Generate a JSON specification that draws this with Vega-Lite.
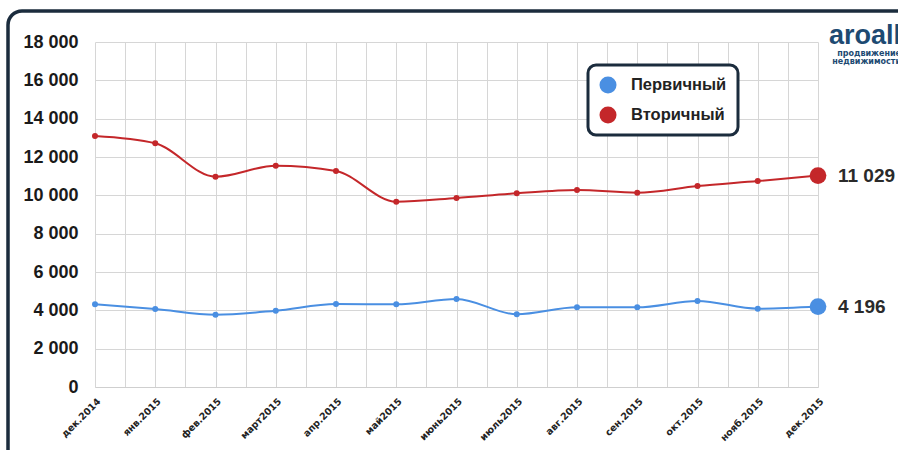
{
  "$schema": "https://vega.github.io/schema/vega-lite/v6.json",
  "width": 920,
  "height": 470,
  "autosize": {"type": "none"},
  "padding": {"left": 8, "top": 11, "right": 0, "bottom": 0},
  "background": "white",
  "title": {
    "text": "aroall",
    "subtitle": ["продвижение", "недвижимости"],
    "anchor": "end",
    "frame": "group",
    "orient": "top",
    "offset": -56,
    "dx": -27,
    "font": "Liberation Sans",
    "fontSize": 27,
    "fontWeight": "bold",
    "color": "#1d4a72",
    "subtitleFont": "DejaVu Sans",
    "subtitleFontSize": 8,
    "subtitleFontWeight": "bold",
    "subtitleLineHeight": 8.5,
    "subtitleColor": "#1d4a72",
    "subtitlePadding": 0
  },
  "data": {
    "values": [
      {"i": 0, "month": "дек.2014", "series": "Первичный", "value": 4314},
      {"i": 1, "month": "янв.2015", "series": "Первичный", "value": 4069},
      {"i": 2, "month": "фев.2015", "series": "Первичный", "value": 3772},
      {"i": 3, "month": "март2015", "series": "Первичный", "value": 3981},
      {"i": 4, "month": "апр.2015", "series": "Первичный", "value": 4330},
      {"i": 5, "month": "май2015", "series": "Первичный", "value": 4314},
      {"i": 6, "month": "июнь2015", "series": "Первичный", "value": 4591},
      {"i": 7, "month": "июль2015", "series": "Первичный", "value": 3793},
      {"i": 8, "month": "авг.2015", "series": "Первичный", "value": 4158},
      {"i": 9, "month": "сен.2015", "series": "Первичный", "value": 4158},
      {"i": 10, "month": "окт.2015", "series": "Первичный", "value": 4487},
      {"i": 11, "month": "нояб.2015", "series": "Первичный", "value": 4085},
      {"i": 12, "month": "дек.2015", "series": "Первичный", "value": 4196},
      {"i": 0, "month": "дек.2014", "series": "Вторичный", "value": 13095},
      {"i": 1, "month": "янв.2015", "series": "Вторичный", "value": 12714},
      {"i": 2, "month": "фев.2015", "series": "Вторичный", "value": 10971},
      {"i": 3, "month": "март2015", "series": "Вторичный", "value": 11545},
      {"i": 4, "month": "апр.2015", "series": "Вторичный", "value": 11269},
      {"i": 5, "month": "май2015", "series": "Вторичный", "value": 9668},
      {"i": 6, "month": "июнь2015", "series": "Вторичный", "value": 9860},
      {"i": 7, "month": "июль2015", "series": "Вторичный", "value": 10105},
      {"i": 8, "month": "авг.2015", "series": "Вторичный", "value": 10277},
      {"i": 9, "month": "сен.2015", "series": "Вторичный", "value": 10137},
      {"i": 10, "month": "окт.2015", "series": "Вторичный", "value": 10486},
      {"i": 11, "month": "нояб.2015", "series": "Вторичный", "value": 10747},
      {"i": 12, "month": "дек.2015", "series": "Вторичный", "value": 11029}
    ]
  },
  "encoding": {
    "y": {
      "field": "value",
      "type": "quantitative",
      "scale": {"domain": [0, 18000], "range": [376, 31], "nice": false},
      "axis": {
        "title": null,
        "orient": "left",
        "offset": -87,
        "values": [0, 2000, 4000, 6000, 8000, 10000, 12000, 14000, 16000, 18000],
        "format": ",d",
        "labelFont": "Liberation Sans",
        "labelFontSize": 18,
        "labelFontWeight": "bold",
        "labelColor": "#1a1a1a",
        "labelPadding": 17,
        "ticks": false,
        "domain": false,
        "grid": true,
        "gridColor": "#d6d6d6",
        "gridWidth": 1
      }
    },
    "color": {
      "field": "series",
      "type": "nominal",
      "scale": {"domain": ["Первичный", "Вторичный"], "range": ["#4a8fe2", "#c4272a"]},
      "legend": {
        "title": null,
        "orient": "none",
        "legendX": 580,
        "legendY": 54,
        "direction": "vertical",
        "symbolType": "circle",
        "symbolSize": 290,
        "symbolStrokeWidth": 0,
        "labelFont": "Liberation Sans",
        "labelFontSize": 16.5,
        "labelFontWeight": "bold",
        "labelColor": "#222",
        "labelOffset": 14,
        "rowPadding": 12,
        "padding": 11,
        "strokeColor": "#1b2c3d",
        "fillColor": "white",
        "cornerRadius": 8
      }
    }
  },
  "layer": [
    {
      "transform": [{"filter": "datum.i == 12"}],
      "mark": {"type": "point", "filled": true, "size": 280, "opacity": 1},
      "encoding": {
        "x": {
          "field": "i",
          "type": "quantitative",
          "scale": {"domain": [0, 12], "range": [87, 810], "nice": false, "zero": false},
          "axis": {
            "title": null,
            "orient": "top",
            "offset": 0,
            "values": [0, 0.5, 1, 1.5, 2, 2.5, 3, 3.5, 4, 4.5, 5, 5.5, 6, 6.5, 7, 7.5, 8, 8.5, 9, 9.5, 10, 10.5, 11, 11.5, 12],
            "labels": false,
            "ticks": false,
            "domain": false,
            "grid": true,
            "gridColor": "#d6d6d6",
            "gridWidth": 1
          }
        }
      }
    },
    {
      "mark": {"type": "line", "interpolate": "monotone", "strokeWidth": 2, "point": {"filled": true, "size": 36}},
      "encoding": {
        "x": {
          "field": "i",
          "type": "quantitative",
          "axis": {
            "title": null,
            "orient": "bottom",
            "offset": -94,
            "values": [0, 1, 2, 3, 4, 5, 6, 7, 8, 9, 10, 11, 12],
            "labelExpr": "['дек.2014','янв.2015','фев.2015','март2015','апр.2015','май2015','июнь2015','июль2015','авг.2015','сен.2015','окт.2015','нояб.2015','дек.2015'][datum.value]",
            "labelAngle": -45,
            "labelAlign": "right",
            "labelBaseline": "top",
            "labelFont": "DejaVu Sans",
            "labelFontSize": 9.5,
            "labelFontWeight": "bold",
            "labelColor": "#222",
            "labelPadding": 9,
            "labelOverlap": false,
            "labelBound": false,
            "labelFlush": false,
            "ticks": false,
            "domain": true,
            "domainColor": "#cfcfcf",
            "grid": false
          }
        }
      }
    },
    {
      "transform": [{"filter": "datum.i == 12"}],
      "mark": {"type": "text", "align": "left", "baseline": "middle", "dx": 20, "font": "Liberation Sans", "fontSize": 19, "fontWeight": "bold", "color": "#2a2a2a"},
      "encoding": {
        "x": {"field": "i", "type": "quantitative"},
        "text": {"field": "value", "type": "quantitative", "format": ",d"},
        "color": {"value": "#2a2a2a"}
      }
    }
  ],
  "resolve": {"axis": {"x": "independent"}},
  "config": {
    "locale": {"number": {"decimal": ",", "thousands": " ", "grouping": [3], "currency": ["", ""]}},
    "view": {"stroke": "#1b2c3d", "strokeWidth": 3.5, "cornerRadius": 14, "fill": "white"},
    "legend": {"strokeWidth": 3}
  }
}
